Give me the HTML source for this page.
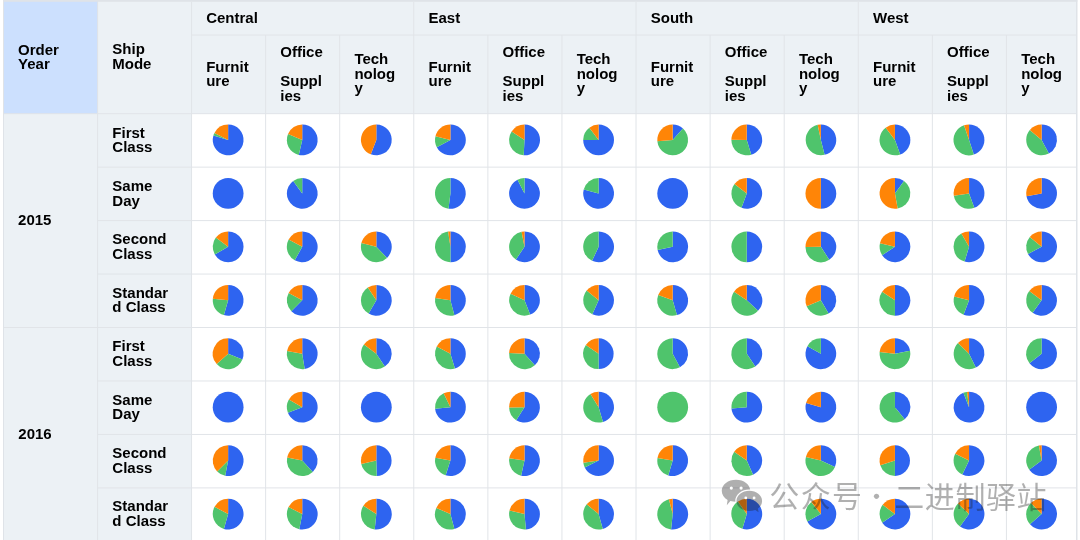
<!DOCTYPE html>
<html><head><meta charset="utf-8"><style>
html,body{margin:0;padding:0;}
body{width:1080px;height:540px;overflow:hidden;position:relative;background:#fff;font-family:"Liberation Sans",Arial,sans-serif;}
.a{position:absolute;}
.v{position:absolute;width:1px;background:#E1E4E8;}
.h{position:absolute;height:1px;background:#E1E4E8;}
.t{position:absolute;font-weight:bold;font-size:15px;line-height:14.8px;color:#000;white-space:nowrap;}
.wm{position:absolute;font-family:"Liberation Sans","Noto Sans CJK SC",sans-serif;color:rgba(30,30,30,0.35);font-size:30px;font-weight:400;line-height:30px;white-space:nowrap;}
</style></head><body>
<div class="a" style="left:4px;top:1px;width:1073px;height:112.5px;background:#ECF1F5"></div>
<div class="a" style="left:4px;top:1px;width:93.6px;height:112.5px;background:#CCE0FE"></div>
<div class="a" style="left:4px;top:113.5px;width:187.5px;height:427px;background:#ECF1F5"></div>
<svg class="a" style="left:0;top:0" width="1080" height="540" viewBox="0 0 1080 540"><g stroke="#E1E4E8" stroke-width="1" fill="none"><line x1="191.55" y1="35.07" x2="1076.4" y2="35.07"/><line x1="4" y1="113.68" x2="1076.4" y2="113.68"/><line x1="97.6" y1="167.14" x2="1076.4" y2="167.14"/><line x1="97.6" y1="220.60" x2="1076.4" y2="220.60"/><line x1="97.6" y1="274.06" x2="1076.4" y2="274.06"/><line x1="4" y1="327.52" x2="1076.4" y2="327.52"/><line x1="97.6" y1="380.98" x2="1076.4" y2="380.98"/><line x1="97.6" y1="434.44" x2="1076.4" y2="434.44"/><line x1="97.6" y1="487.90" x2="1076.4" y2="487.90"/><line x1="97.60" y1="2" x2="97.60" y2="540"/><line x1="191.55" y1="2" x2="191.55" y2="540"/><line x1="265.63" y1="35.07" x2="265.63" y2="540"/><line x1="339.71" y1="35.07" x2="339.71" y2="540"/><line x1="413.79" y1="2" x2="413.79" y2="540"/><line x1="487.87" y1="35.07" x2="487.87" y2="540"/><line x1="561.95" y1="35.07" x2="561.95" y2="540"/><line x1="636.03" y1="2" x2="636.03" y2="540"/><line x1="710.11" y1="35.07" x2="710.11" y2="540"/><line x1="784.19" y1="35.07" x2="784.19" y2="540"/><line x1="858.27" y1="2" x2="858.27" y2="540"/><line x1="932.35" y1="35.07" x2="932.35" y2="540"/><line x1="1006.43" y1="35.07" x2="1006.43" y2="540"/></g></svg>
<svg class="a" style="left:0;top:0" width="1080" height="540" viewBox="0 0 1080 540"><path d="M228.14 139.93L228.14 124.53A15.4 15.4 0 1 1 213.42 135.42Z" fill="#2E64F0"/><path d="M228.14 139.93L213.42 135.42A15.4 15.4 0 0 1 214.42 132.93Z" fill="#4FC46C"/><path d="M228.14 139.93L214.42 132.93A15.4 15.4 0 0 1 228.14 124.53Z" fill="#FF8507"/><path d="M302.24 139.93L302.24 124.53A15.4 15.4 0 1 1 298.77 154.93Z" fill="#2E64F0"/><path d="M302.24 139.93L298.77 154.93A15.4 15.4 0 0 1 288.06 133.91Z" fill="#4FC46C"/><path d="M302.24 139.93L288.06 133.91A15.4 15.4 0 0 1 302.24 124.53Z" fill="#FF8507"/><path d="M376.33 139.93L376.33 124.53A15.4 15.4 0 1 1 370.81 154.30Z" fill="#2E64F0"/><path d="M376.33 139.93L370.81 154.30A15.4 15.4 0 0 1 376.33 124.53Z" fill="#FF8507"/><path d="M450.41 139.93L450.41 124.53A15.4 15.4 0 1 1 436.82 147.15Z" fill="#2E64F0"/><path d="M450.41 139.93L436.82 147.15A15.4 15.4 0 0 1 435.47 136.20Z" fill="#4FC46C"/><path d="M450.41 139.93L435.47 136.20A15.4 15.4 0 0 1 450.41 124.53Z" fill="#FF8507"/><path d="M524.50 139.93L524.50 124.53A15.4 15.4 0 1 1 523.70 155.30Z" fill="#2E64F0"/><path d="M524.50 139.93L523.70 155.30A15.4 15.4 0 0 1 511.59 131.54Z" fill="#4FC46C"/><path d="M524.50 139.93L511.59 131.54A15.4 15.4 0 0 1 524.50 124.53Z" fill="#FF8507"/><path d="M598.60 139.93L598.60 124.53A15.4 15.4 0 1 1 583.20 139.93Z" fill="#2E64F0"/><path d="M598.60 139.93L583.20 139.93A15.4 15.4 0 0 1 589.33 127.63Z" fill="#4FC46C"/><path d="M598.60 139.93L589.33 127.63A15.4 15.4 0 0 1 598.60 124.53Z" fill="#FF8507"/><path d="M672.69 139.93L672.69 124.53A15.4 15.4 0 0 1 682.99 128.48Z" fill="#2E64F0"/><path d="M672.69 139.93L682.99 128.48A15.4 15.4 0 1 1 657.34 141.27Z" fill="#4FC46C"/><path d="M672.69 139.93L657.34 141.27A15.4 15.4 0 0 1 672.69 124.53Z" fill="#FF8507"/><path d="M746.78 139.93L746.78 124.53A15.4 15.4 0 0 1 751.28 154.65Z" fill="#2E64F0"/><path d="M746.78 139.93L751.28 154.65A15.4 15.4 0 0 1 731.38 139.66Z" fill="#4FC46C"/><path d="M746.78 139.93L731.38 139.66A15.4 15.4 0 0 1 746.78 124.53Z" fill="#FF8507"/><path d="M820.87 139.93L820.87 124.53A15.4 15.4 0 0 1 824.59 154.87Z" fill="#2E64F0"/><path d="M820.87 139.93L824.59 154.87A15.4 15.4 0 1 1 817.66 124.86Z" fill="#4FC46C"/><path d="M820.87 139.93L817.66 124.86A15.4 15.4 0 0 1 820.87 124.53Z" fill="#FF8507"/><path d="M894.96 139.93L894.96 124.53A15.4 15.4 0 0 1 900.22 154.40Z" fill="#2E64F0"/><path d="M894.96 139.93L900.22 154.40A15.4 15.4 0 0 1 885.69 127.63Z" fill="#4FC46C"/><path d="M894.96 139.93L885.69 127.63A15.4 15.4 0 0 1 894.96 124.53Z" fill="#FF8507"/><path d="M969.05 139.93L969.05 124.53A15.4 15.4 0 0 1 973.80 154.57Z" fill="#2E64F0"/><path d="M969.05 139.93L973.80 154.57A15.4 15.4 0 0 1 964.03 125.36Z" fill="#4FC46C"/><path d="M969.05 139.93L964.03 125.36A15.4 15.4 0 0 1 969.05 124.53Z" fill="#FF8507"/><path d="M1041.60 139.93L1041.60 124.53A15.4 15.4 0 0 1 1048.83 153.52Z" fill="#2E64F0"/><path d="M1041.60 139.93L1048.83 153.52A15.4 15.4 0 0 1 1029.80 130.03Z" fill="#4FC46C"/><path d="M1041.60 139.93L1029.80 130.03A15.4 15.4 0 0 1 1041.60 124.53Z" fill="#FF8507"/><circle cx="228.14" cy="193.38" r="15.4" fill="#2E64F0"/><path d="M302.24 193.38L302.24 177.97A15.4 15.4 0 1 1 293.18 180.92Z" fill="#2E64F0"/><path d="M302.24 193.38L293.18 180.92A15.4 15.4 0 0 1 302.24 177.97Z" fill="#4FC46C"/><path d="M450.41 193.38L450.41 177.97A15.4 15.4 0 1 1 448.54 208.66Z" fill="#2E64F0"/><path d="M450.41 193.38L448.54 208.66A15.4 15.4 0 0 1 450.41 177.97Z" fill="#4FC46C"/><path d="M524.50 193.38L524.50 177.97A15.4 15.4 0 1 1 517.51 179.65Z" fill="#2E64F0"/><path d="M524.50 193.38L517.51 179.65A15.4 15.4 0 0 1 524.50 177.97Z" fill="#4FC46C"/><path d="M598.60 193.38L598.60 177.97A15.4 15.4 0 1 1 583.72 189.39Z" fill="#2E64F0"/><path d="M598.60 193.38L583.72 189.39A15.4 15.4 0 0 1 598.60 177.97Z" fill="#4FC46C"/><circle cx="672.69" cy="193.38" r="15.4" fill="#2E64F0"/><path d="M746.78 193.38L746.78 177.97A15.4 15.4 0 1 1 741.51 207.85Z" fill="#2E64F0"/><path d="M746.78 193.38L741.51 207.85A15.4 15.4 0 0 1 734.48 184.11Z" fill="#4FC46C"/><path d="M746.78 193.38L734.48 184.11A15.4 15.4 0 0 1 746.78 177.97Z" fill="#FF8507"/><path d="M820.87 193.38L820.87 177.97A15.4 15.4 0 0 1 820.87 208.78Z" fill="#2E64F0"/><path d="M820.87 193.38L820.87 208.78A15.4 15.4 0 0 1 820.87 177.97Z" fill="#FF8507"/><path d="M894.96 193.38L894.96 177.97A15.4 15.4 0 0 1 904.01 180.92Z" fill="#2E64F0"/><path d="M894.96 193.38L904.01 180.92A15.4 15.4 0 0 1 897.63 208.54Z" fill="#4FC46C"/><path d="M894.96 193.38L897.63 208.54A15.4 15.4 0 1 1 894.96 177.97Z" fill="#FF8507"/><path d="M969.05 193.38L969.05 177.97A15.4 15.4 0 0 1 974.31 207.85Z" fill="#2E64F0"/><path d="M969.05 193.38L974.31 207.85A15.4 15.4 0 0 1 953.83 195.78Z" fill="#4FC46C"/><path d="M969.05 193.38L953.83 195.78A15.4 15.4 0 0 1 969.05 177.97Z" fill="#FF8507"/><path d="M1041.60 193.38L1041.60 177.97A15.4 15.4 0 1 1 1026.48 196.31Z" fill="#2E64F0"/><path d="M1041.60 193.38L1026.48 196.31A15.4 15.4 0 0 1 1041.60 177.97Z" fill="#FF8507"/><path d="M228.14 246.82L228.14 231.42A15.4 15.4 0 1 1 214.81 254.53Z" fill="#2E64F0"/><path d="M228.14 246.82L214.81 254.53A15.4 15.4 0 0 1 215.85 237.56Z" fill="#4FC46C"/><path d="M228.14 246.82L215.85 237.56A15.4 15.4 0 0 1 228.14 231.42Z" fill="#FF8507"/><path d="M302.24 246.82L302.24 231.42A15.4 15.4 0 1 1 294.77 260.29Z" fill="#2E64F0"/><path d="M302.24 246.82L294.77 260.29A15.4 15.4 0 0 1 288.64 239.60Z" fill="#4FC46C"/><path d="M302.24 246.82L288.64 239.60A15.4 15.4 0 0 1 302.24 231.42Z" fill="#FF8507"/><path d="M376.33 246.82L376.33 231.42A15.4 15.4 0 0 1 387.02 257.90Z" fill="#2E64F0"/><path d="M376.33 246.82L387.02 257.90A15.4 15.4 0 0 1 361.38 243.10Z" fill="#4FC46C"/><path d="M376.33 246.82L361.38 243.10A15.4 15.4 0 0 1 376.33 231.42Z" fill="#FF8507"/><path d="M450.41 246.82L450.41 231.42A15.4 15.4 0 0 1 450.41 262.22Z" fill="#2E64F0"/><path d="M450.41 246.82L450.41 262.22A15.4 15.4 0 0 1 448.14 231.59Z" fill="#4FC46C"/><path d="M450.41 246.82L448.14 231.59A15.4 15.4 0 0 1 450.41 231.42Z" fill="#FF8507"/><path d="M524.50 246.82L524.50 231.42A15.4 15.4 0 1 1 515.89 259.59Z" fill="#2E64F0"/><path d="M524.50 246.82L515.89 259.59A15.4 15.4 0 0 1 521.57 231.71Z" fill="#4FC46C"/><path d="M524.50 246.82L521.57 231.71A15.4 15.4 0 0 1 524.50 231.42Z" fill="#FF8507"/><path d="M598.60 246.82L598.60 231.42A15.4 15.4 0 1 1 592.09 260.78Z" fill="#2E64F0"/><path d="M598.60 246.82L592.09 260.78A15.4 15.4 0 0 1 598.60 231.42Z" fill="#4FC46C"/><path d="M672.69 246.82L672.69 231.42A15.4 15.4 0 1 1 657.62 250.03Z" fill="#2E64F0"/><path d="M672.69 246.82L657.62 250.03A15.4 15.4 0 0 1 672.69 231.42Z" fill="#4FC46C"/><path d="M746.78 246.82L746.78 231.42A15.4 15.4 0 0 1 746.78 262.22Z" fill="#2E64F0"/><path d="M746.78 246.82L746.78 262.22A15.4 15.4 0 0 1 746.78 231.42Z" fill="#4FC46C"/><path d="M820.87 246.82L820.87 231.42A15.4 15.4 0 0 1 829.25 259.74Z" fill="#2E64F0"/><path d="M820.87 246.82L829.25 259.74A15.4 15.4 0 0 1 805.47 247.09Z" fill="#4FC46C"/><path d="M820.87 246.82L805.47 247.09A15.4 15.4 0 0 1 820.87 231.42Z" fill="#FF8507"/><path d="M894.96 246.82L894.96 231.42A15.4 15.4 0 1 1 882.11 255.32Z" fill="#2E64F0"/><path d="M894.96 246.82L882.11 255.32A15.4 15.4 0 0 1 879.95 243.36Z" fill="#4FC46C"/><path d="M894.96 246.82L879.95 243.36A15.4 15.4 0 0 1 894.96 231.42Z" fill="#FF8507"/><path d="M969.05 246.82L969.05 231.42A15.4 15.4 0 1 1 964.54 261.55Z" fill="#2E64F0"/><path d="M969.05 246.82L964.54 261.55A15.4 15.4 0 0 1 961.35 233.49Z" fill="#4FC46C"/><path d="M969.05 246.82L961.35 233.49A15.4 15.4 0 0 1 969.05 231.42Z" fill="#FF8507"/><path d="M1041.60 246.82L1041.60 231.42A15.4 15.4 0 1 1 1028.00 254.05Z" fill="#2E64F0"/><path d="M1041.60 246.82L1028.00 254.05A15.4 15.4 0 0 1 1029.80 236.93Z" fill="#4FC46C"/><path d="M1041.60 246.82L1029.80 236.93A15.4 15.4 0 0 1 1041.60 231.42Z" fill="#FF8507"/><path d="M228.14 300.28L228.14 284.88A15.4 15.4 0 1 1 223.90 315.08Z" fill="#2E64F0"/><path d="M228.14 300.28L223.90 315.08A15.4 15.4 0 0 1 212.83 298.67Z" fill="#4FC46C"/><path d="M228.14 300.28L212.83 298.67A15.4 15.4 0 0 1 228.14 284.88Z" fill="#FF8507"/><path d="M302.24 300.28L302.24 284.88A15.4 15.4 0 1 1 291.35 311.16Z" fill="#2E64F0"/><path d="M302.24 300.28L291.35 311.16A15.4 15.4 0 0 1 288.64 293.05Z" fill="#4FC46C"/><path d="M302.24 300.28L288.64 293.05A15.4 15.4 0 0 1 302.24 284.88Z" fill="#FF8507"/><path d="M376.33 300.28L376.33 284.88A15.4 15.4 0 1 1 368.63 313.61Z" fill="#2E64F0"/><path d="M376.33 300.28L368.63 313.61A15.4 15.4 0 0 1 367.83 287.43Z" fill="#4FC46C"/><path d="M376.33 300.28L367.83 287.43A15.4 15.4 0 0 1 376.33 284.88Z" fill="#FF8507"/><path d="M450.41 300.28L450.41 284.88A15.4 15.4 0 0 1 454.40 315.15Z" fill="#2E64F0"/><path d="M450.41 300.28L454.40 315.15A15.4 15.4 0 0 1 435.18 298.00Z" fill="#4FC46C"/><path d="M450.41 300.28L435.18 298.00A15.4 15.4 0 0 1 450.41 284.88Z" fill="#FF8507"/><path d="M524.50 300.28L524.50 284.88A15.4 15.4 0 0 1 530.12 314.61Z" fill="#2E64F0"/><path d="M524.50 300.28L530.12 314.61A15.4 15.4 0 0 1 510.61 293.65Z" fill="#4FC46C"/><path d="M524.50 300.28L510.61 293.65A15.4 15.4 0 0 1 524.50 284.88Z" fill="#FF8507"/><path d="M598.60 300.28L598.60 284.88A15.4 15.4 0 1 1 592.33 314.34Z" fill="#2E64F0"/><path d="M598.60 300.28L592.33 314.34A15.4 15.4 0 0 1 586.63 290.58Z" fill="#4FC46C"/><path d="M598.60 300.28L586.63 290.58A15.4 15.4 0 0 1 598.60 284.88Z" fill="#FF8507"/><path d="M672.69 300.28L672.69 284.88A15.4 15.4 0 0 1 676.93 315.08Z" fill="#2E64F0"/><path d="M672.69 300.28L676.93 315.08A15.4 15.4 0 0 1 658.21 295.01Z" fill="#4FC46C"/><path d="M672.69 300.28L658.21 295.01A15.4 15.4 0 0 1 672.69 284.88Z" fill="#FF8507"/><path d="M746.78 300.28L746.78 284.88A15.4 15.4 0 0 1 758.04 310.78Z" fill="#2E64F0"/><path d="M746.78 300.28L758.04 310.78A15.4 15.4 0 0 1 734.01 291.66Z" fill="#4FC46C"/><path d="M746.78 300.28L734.01 291.66A15.4 15.4 0 0 1 746.78 284.88Z" fill="#FF8507"/><path d="M820.87 300.28L820.87 284.88A15.4 15.4 0 0 1 828.57 313.61Z" fill="#2E64F0"/><path d="M820.87 300.28L828.57 313.61A15.4 15.4 0 0 1 806.69 306.29Z" fill="#4FC46C"/><path d="M820.87 300.28L806.69 306.29A15.4 15.4 0 0 1 820.87 284.88Z" fill="#FF8507"/><path d="M894.96 300.28L894.96 284.88A15.4 15.4 0 0 1 894.96 315.68Z" fill="#2E64F0"/><path d="M894.96 300.28L894.96 315.68A15.4 15.4 0 0 1 882.11 291.78Z" fill="#4FC46C"/><path d="M894.96 300.28L882.11 291.78A15.4 15.4 0 0 1 894.96 284.88Z" fill="#FF8507"/><path d="M969.05 300.28L969.05 284.88A15.4 15.4 0 1 1 963.53 314.65Z" fill="#2E64F0"/><path d="M969.05 300.28L963.53 314.65A15.4 15.4 0 0 1 954.13 296.45Z" fill="#4FC46C"/><path d="M969.05 300.28L954.13 296.45A15.4 15.4 0 0 1 969.05 284.88Z" fill="#FF8507"/><path d="M1041.60 300.28L1041.60 284.88A15.4 15.4 0 1 1 1032.64 312.80Z" fill="#2E64F0"/><path d="M1041.60 300.28L1032.64 312.80A15.4 15.4 0 0 1 1029.25 291.07Z" fill="#4FC46C"/><path d="M1041.60 300.28L1029.25 291.07A15.4 15.4 0 0 1 1041.60 284.88Z" fill="#FF8507"/><path d="M228.14 353.73L228.14 338.33A15.4 15.4 0 0 1 242.42 359.49Z" fill="#2E64F0"/><path d="M228.14 353.73L242.42 359.49A15.4 15.4 0 0 1 216.70 364.03Z" fill="#4FC46C"/><path d="M228.14 353.73L216.70 364.03A15.4 15.4 0 0 1 228.14 338.33Z" fill="#FF8507"/><path d="M302.24 353.73L302.24 338.33A15.4 15.4 0 0 1 304.64 368.94Z" fill="#2E64F0"/><path d="M302.24 353.73L304.64 368.94A15.4 15.4 0 0 1 287.07 351.05Z" fill="#4FC46C"/><path d="M302.24 353.73L287.07 351.05A15.4 15.4 0 0 1 302.24 338.33Z" fill="#FF8507"/><path d="M376.33 353.73L376.33 338.33A15.4 15.4 0 0 1 384.82 366.57Z" fill="#2E64F0"/><path d="M376.33 353.73L384.82 366.57A15.4 15.4 0 0 1 363.96 344.54Z" fill="#4FC46C"/><path d="M376.33 353.73L363.96 344.54A15.4 15.4 0 0 1 376.33 338.33Z" fill="#FF8507"/><path d="M450.41 353.73L450.41 338.33A15.4 15.4 0 0 1 454.92 368.45Z" fill="#2E64F0"/><path d="M450.41 353.73L454.92 368.45A15.4 15.4 0 0 1 436.77 346.59Z" fill="#4FC46C"/><path d="M450.41 353.73L436.77 346.59A15.4 15.4 0 0 1 450.41 338.33Z" fill="#FF8507"/><path d="M524.50 353.73L524.50 338.33A15.4 15.4 0 0 1 534.81 365.17Z" fill="#2E64F0"/><path d="M524.50 353.73L534.81 365.17A15.4 15.4 0 0 1 509.13 352.92Z" fill="#4FC46C"/><path d="M524.50 353.73L509.13 352.92A15.4 15.4 0 0 1 524.50 338.33Z" fill="#FF8507"/><path d="M598.60 353.73L598.60 338.33A15.4 15.4 0 0 1 598.60 369.12Z" fill="#2E64F0"/><path d="M598.60 353.73L598.60 369.12A15.4 15.4 0 0 1 585.83 345.11Z" fill="#4FC46C"/><path d="M598.60 353.73L585.83 345.11A15.4 15.4 0 0 1 598.60 338.33Z" fill="#FF8507"/><path d="M672.69 353.73L672.69 338.33A15.4 15.4 0 0 1 679.91 367.32Z" fill="#2E64F0"/><path d="M672.69 353.73L679.91 367.32A15.4 15.4 0 1 1 672.69 338.33Z" fill="#4FC46C"/><path d="M746.78 353.73L746.78 338.33A15.4 15.4 0 0 1 755.27 366.57Z" fill="#2E64F0"/><path d="M746.78 353.73L755.27 366.57A15.4 15.4 0 1 1 746.78 338.33Z" fill="#4FC46C"/><path d="M820.87 353.73L820.87 338.33A15.4 15.4 0 1 1 807.40 346.26Z" fill="#2E64F0"/><path d="M820.87 353.73L807.40 346.26A15.4 15.4 0 0 1 820.87 338.33Z" fill="#4FC46C"/><path d="M894.96 353.73L894.96 338.33A15.4 15.4 0 0 1 910.07 350.79Z" fill="#2E64F0"/><path d="M894.96 353.73L910.07 350.79A15.4 15.4 0 1 1 879.64 352.12Z" fill="#4FC46C"/><path d="M894.96 353.73L879.64 352.12A15.4 15.4 0 0 1 894.96 338.33Z" fill="#FF8507"/><path d="M969.05 353.73L969.05 338.33A15.4 15.4 0 0 1 975.80 367.57Z" fill="#2E64F0"/><path d="M969.05 353.73L975.80 367.57A15.4 15.4 0 0 1 957.97 343.03Z" fill="#4FC46C"/><path d="M969.05 353.73L957.97 343.03A15.4 15.4 0 0 1 969.05 338.33Z" fill="#FF8507"/><path d="M1041.60 353.73L1041.60 338.33A15.4 15.4 0 1 1 1029.46 363.21Z" fill="#2E64F0"/><path d="M1041.60 353.73L1029.46 363.21A15.4 15.4 0 0 1 1041.60 338.33Z" fill="#4FC46C"/><circle cx="228.14" cy="407.18" r="15.4" fill="#2E64F0"/><path d="M302.24 407.18L302.24 391.78A15.4 15.4 0 1 1 287.90 412.79Z" fill="#2E64F0"/><path d="M302.24 407.18L287.90 412.79A15.4 15.4 0 0 1 288.86 399.54Z" fill="#4FC46C"/><path d="M302.24 407.18L288.86 399.54A15.4 15.4 0 0 1 302.24 391.78Z" fill="#FF8507"/><circle cx="376.33" cy="407.18" r="15.4" fill="#2E64F0"/><path d="M450.41 407.18L450.41 391.78A15.4 15.4 0 1 1 435.10 408.78Z" fill="#2E64F0"/><path d="M450.41 407.18L435.10 408.78A15.4 15.4 0 0 1 443.66 393.33Z" fill="#4FC46C"/><path d="M450.41 407.18L443.66 393.33A15.4 15.4 0 0 1 450.41 391.78Z" fill="#FF8507"/><path d="M524.50 407.18L524.50 391.78A15.4 15.4 0 1 1 516.21 420.15Z" fill="#2E64F0"/><path d="M524.50 407.18L516.21 420.15A15.4 15.4 0 0 1 509.11 407.58Z" fill="#4FC46C"/><path d="M524.50 407.18L509.11 407.58A15.4 15.4 0 0 1 524.50 391.78Z" fill="#FF8507"/><path d="M598.60 407.18L598.60 391.78A15.4 15.4 0 0 1 602.97 421.94Z" fill="#2E64F0"/><path d="M598.60 407.18L602.97 421.94A15.4 15.4 0 0 1 590.43 394.12Z" fill="#4FC46C"/><path d="M598.60 407.18L590.43 394.12A15.4 15.4 0 0 1 598.60 391.78Z" fill="#FF8507"/><circle cx="672.69" cy="407.18" r="15.4" fill="#4FC46C"/><path d="M746.78 407.18L746.78 391.78A15.4 15.4 0 1 1 731.44 408.62Z" fill="#2E64F0"/><path d="M746.78 407.18L731.44 408.62A15.4 15.4 0 0 1 746.78 391.78Z" fill="#4FC46C"/><path d="M820.87 407.18L820.87 391.78A15.4 15.4 0 1 1 806.06 402.93Z" fill="#2E64F0"/><path d="M820.87 407.18L806.06 402.93A15.4 15.4 0 0 1 820.87 391.78Z" fill="#FF8507"/><path d="M894.96 407.18L894.96 391.78A15.4 15.4 0 0 1 904.65 419.14Z" fill="#2E64F0"/><path d="M894.96 407.18L904.65 419.14A15.4 15.4 0 1 1 894.96 391.78Z" fill="#4FC46C"/><path d="M969.05 407.18L969.05 391.78A15.4 15.4 0 1 1 963.40 392.85Z" fill="#2E64F0"/><path d="M969.05 407.18L963.40 392.85A15.4 15.4 0 0 1 967.01 391.91Z" fill="#4FC46C"/><path d="M969.05 407.18L967.01 391.91A15.4 15.4 0 0 1 969.05 391.78Z" fill="#FF8507"/><circle cx="1041.60" cy="407.18" r="15.4" fill="#2E64F0"/><path d="M228.14 460.62L228.14 445.23A15.4 15.4 0 1 1 225.21 475.74Z" fill="#2E64F0"/><path d="M228.14 460.62L225.21 475.74A15.4 15.4 0 0 1 217.16 471.42Z" fill="#4FC46C"/><path d="M228.14 460.62L217.16 471.42A15.4 15.4 0 0 1 228.14 445.23Z" fill="#FF8507"/><path d="M302.24 460.62L302.24 445.23A15.4 15.4 0 0 1 312.74 471.89Z" fill="#2E64F0"/><path d="M302.24 460.62L312.74 471.89A15.4 15.4 0 0 1 287.15 457.53Z" fill="#4FC46C"/><path d="M302.24 460.62L287.15 457.53A15.4 15.4 0 0 1 302.24 445.23Z" fill="#FF8507"/><path d="M376.33 460.62L376.33 445.23A15.4 15.4 0 0 1 376.73 476.02Z" fill="#2E64F0"/><path d="M376.33 460.62L376.73 476.02A15.4 15.4 0 0 1 361.32 464.09Z" fill="#4FC46C"/><path d="M376.33 460.62L361.32 464.09A15.4 15.4 0 0 1 376.33 445.23Z" fill="#FF8507"/><path d="M450.41 460.62L450.41 445.23A15.4 15.4 0 1 1 445.66 475.27Z" fill="#2E64F0"/><path d="M450.41 460.62L445.66 475.27A15.4 15.4 0 0 1 435.30 457.69Z" fill="#4FC46C"/><path d="M450.41 460.62L435.30 457.69A15.4 15.4 0 0 1 450.41 445.23Z" fill="#FF8507"/><path d="M524.50 460.62L524.50 445.23A15.4 15.4 0 1 1 521.12 475.65Z" fill="#2E64F0"/><path d="M524.50 460.62L521.12 475.65A15.4 15.4 0 0 1 509.28 458.32Z" fill="#4FC46C"/><path d="M524.50 460.62L509.28 458.32A15.4 15.4 0 0 1 524.50 445.23Z" fill="#FF8507"/><path d="M598.60 460.62L598.60 445.23A15.4 15.4 0 1 1 584.75 467.38Z" fill="#2E64F0"/><path d="M598.60 460.62L584.75 467.38A15.4 15.4 0 0 1 583.34 462.77Z" fill="#4FC46C"/><path d="M598.60 460.62L583.34 462.77A15.4 15.4 0 0 1 598.60 445.23Z" fill="#FF8507"/><path d="M672.69 460.62L672.69 445.23A15.4 15.4 0 1 1 668.26 475.38Z" fill="#2E64F0"/><path d="M672.69 460.62L668.26 475.38A15.4 15.4 0 0 1 657.52 457.95Z" fill="#4FC46C"/><path d="M672.69 460.62L657.52 457.95A15.4 15.4 0 0 1 672.69 445.23Z" fill="#FF8507"/><path d="M746.78 460.62L746.78 445.23A15.4 15.4 0 0 1 753.04 474.69Z" fill="#2E64F0"/><path d="M746.78 460.62L753.04 474.69A15.4 15.4 0 0 1 734.16 451.79Z" fill="#4FC46C"/><path d="M746.78 460.62L734.16 451.79A15.4 15.4 0 0 1 746.78 445.23Z" fill="#FF8507"/><path d="M820.87 460.62L820.87 445.23A15.4 15.4 0 0 1 834.93 466.89Z" fill="#2E64F0"/><path d="M820.87 460.62L834.93 466.89A15.4 15.4 0 0 1 805.92 456.90Z" fill="#4FC46C"/><path d="M820.87 460.62L805.92 456.90A15.4 15.4 0 0 1 820.87 445.23Z" fill="#FF8507"/><path d="M894.96 460.62L894.96 445.23A15.4 15.4 0 0 1 894.96 476.02Z" fill="#2E64F0"/><path d="M894.96 460.62L894.96 476.02A15.4 15.4 0 0 1 880.28 465.31Z" fill="#4FC46C"/><path d="M894.96 460.62L880.28 465.31A15.4 15.4 0 0 1 894.96 445.23Z" fill="#FF8507"/><path d="M969.05 460.62L969.05 445.23A15.4 15.4 0 1 1 962.29 474.47Z" fill="#2E64F0"/><path d="M969.05 460.62L962.29 474.47A15.4 15.4 0 0 1 955.20 453.87Z" fill="#4FC46C"/><path d="M969.05 460.62L955.20 453.87A15.4 15.4 0 0 1 969.05 445.23Z" fill="#FF8507"/><path d="M1041.60 460.62L1041.60 445.23A15.4 15.4 0 1 1 1029.20 469.76Z" fill="#2E64F0"/><path d="M1041.60 460.62L1029.20 469.76A15.4 15.4 0 0 1 1038.93 445.46Z" fill="#4FC46C"/><path d="M1041.60 460.62L1038.93 445.46A15.4 15.4 0 0 1 1041.60 445.23Z" fill="#FF8507"/><path d="M228.14 514.08L228.14 498.68A15.4 15.4 0 1 1 223.90 528.88Z" fill="#2E64F0"/><path d="M228.14 514.08L223.90 528.88A15.4 15.4 0 0 1 214.55 506.85Z" fill="#4FC46C"/><path d="M228.14 514.08L214.55 506.85A15.4 15.4 0 0 1 228.14 498.68Z" fill="#FF8507"/><path d="M302.24 514.08L302.24 498.68A15.4 15.4 0 1 1 299.30 529.19Z" fill="#2E64F0"/><path d="M302.24 514.08L299.30 529.19A15.4 15.4 0 0 1 288.51 507.08Z" fill="#4FC46C"/><path d="M302.24 514.08L288.51 507.08A15.4 15.4 0 0 1 302.24 498.68Z" fill="#FF8507"/><path d="M376.33 514.08L376.33 498.68A15.4 15.4 0 1 1 374.72 529.39Z" fill="#2E64F0"/><path d="M376.33 514.08L374.72 529.39A15.4 15.4 0 0 1 363.41 505.69Z" fill="#4FC46C"/><path d="M376.33 514.08L363.41 505.69A15.4 15.4 0 0 1 376.33 498.68Z" fill="#FF8507"/><path d="M450.41 514.08L450.41 498.68A15.4 15.4 0 0 1 454.40 528.95Z" fill="#2E64F0"/><path d="M450.41 514.08L454.40 528.95A15.4 15.4 0 0 1 436.29 507.93Z" fill="#4FC46C"/><path d="M450.41 514.08L436.29 507.93A15.4 15.4 0 0 1 450.41 498.68Z" fill="#FF8507"/><path d="M524.50 514.08L524.50 498.68A15.4 15.4 0 0 1 525.95 529.41Z" fill="#2E64F0"/><path d="M524.50 514.08L525.95 529.41A15.4 15.4 0 0 1 509.53 510.48Z" fill="#4FC46C"/><path d="M524.50 514.08L509.53 510.48A15.4 15.4 0 0 1 524.50 498.68Z" fill="#FF8507"/><path d="M598.60 514.08L598.60 498.68A15.4 15.4 0 0 1 602.76 528.90Z" fill="#2E64F0"/><path d="M598.60 514.08L602.76 528.90A15.4 15.4 0 0 1 586.68 504.32Z" fill="#4FC46C"/><path d="M598.60 514.08L586.68 504.32A15.4 15.4 0 0 1 598.60 498.68Z" fill="#FF8507"/><path d="M672.69 514.08L672.69 498.68A15.4 15.4 0 1 1 671.08 529.39Z" fill="#2E64F0"/><path d="M672.69 514.08L671.08 529.39A15.4 15.4 0 0 1 668.96 499.13Z" fill="#4FC46C"/><path d="M672.69 514.08L668.96 499.13A15.4 15.4 0 0 1 672.69 498.68Z" fill="#FF8507"/><path d="M746.78 514.08L746.78 498.68A15.4 15.4 0 1 1 742.40 528.84Z" fill="#2E64F0"/><path d="M746.78 514.08L742.40 528.84A15.4 15.4 0 0 1 737.94 501.46Z" fill="#4FC46C"/><path d="M746.78 514.08L737.94 501.46A15.4 15.4 0 0 1 746.78 498.68Z" fill="#FF8507"/><path d="M820.87 514.08L820.87 498.68A15.4 15.4 0 1 1 807.31 521.38Z" fill="#2E64F0"/><path d="M820.87 514.08L807.31 521.38A15.4 15.4 0 0 1 811.32 501.99Z" fill="#4FC46C"/><path d="M820.87 514.08L811.32 501.99A15.4 15.4 0 0 1 820.87 498.68Z" fill="#FF8507"/><path d="M894.96 514.08L894.96 498.68A15.4 15.4 0 1 1 882.19 522.69Z" fill="#2E64F0"/><path d="M894.96 514.08L882.19 522.69A15.4 15.4 0 0 1 882.66 504.81Z" fill="#4FC46C"/><path d="M894.96 514.08L882.66 504.81A15.4 15.4 0 0 1 894.96 498.68Z" fill="#FF8507"/><path d="M969.05 514.08L969.05 498.68A15.4 15.4 0 1 1 959.99 526.53Z" fill="#2E64F0"/><path d="M969.05 514.08L959.99 526.53A15.4 15.4 0 0 1 957.97 503.38Z" fill="#4FC46C"/><path d="M969.05 514.08L957.97 503.38A15.4 15.4 0 0 1 969.05 498.68Z" fill="#FF8507"/><path d="M1041.60 514.08L1041.60 498.68A15.4 15.4 0 1 1 1029.98 524.18Z" fill="#2E64F0"/><path d="M1041.60 514.08L1029.98 524.18A15.4 15.4 0 0 1 1030.90 503.00Z" fill="#4FC46C"/><path d="M1041.60 514.08L1030.90 503.00A15.4 15.4 0 0 1 1041.60 498.68Z" fill="#FF8507"/></svg>
<div class="t" style="left:18.1px;top:42.699999999999996px">Order<br>Year</div><div class="t" style="left:112.3px;top:42.3px">Ship<br>Mode</div><div class="t" style="left:206.2px;top:10.700000000000001px">Central</div><div class="t" style="left:206.2px;top:59.49999999999999px">Furnit<br>ure</div><div class="t" style="left:280.29px;top:44.6px">Office<br><br>Suppl<br>ies</div><div class="t" style="left:354.38px;top:51.8px">Tech<br>nolog<br>y</div><div class="t" style="left:428.46999999999997px;top:10.700000000000001px">East</div><div class="t" style="left:428.46999999999997px;top:59.49999999999999px">Furnit<br>ure</div><div class="t" style="left:502.56px;top:44.6px">Office<br><br>Suppl<br>ies</div><div class="t" style="left:576.6500000000001px;top:51.8px">Tech<br>nolog<br>y</div><div class="t" style="left:650.74px;top:10.700000000000001px">South</div><div class="t" style="left:650.74px;top:59.49999999999999px">Furnit<br>ure</div><div class="t" style="left:724.83px;top:44.6px">Office<br><br>Suppl<br>ies</div><div class="t" style="left:798.9200000000001px;top:51.8px">Tech<br>nolog<br>y</div><div class="t" style="left:873.0100000000001px;top:10.700000000000001px">West</div><div class="t" style="left:873.0100000000001px;top:59.49999999999999px">Furnit<br>ure</div><div class="t" style="left:947.1000000000001px;top:44.6px">Office<br><br>Suppl<br>ies</div><div class="t" style="left:1021.19px;top:51.8px">Tech<br>nolog<br>y</div><div class="t" style="left:18.1px;top:212.9px">2015</div><div class="t" style="left:18.3px;top:426.5px">2016</div><div class="t" style="left:112.3px;top:125.5px">First<br>Class</div><div class="t" style="left:112.3px;top:178.9px">Same<br>Day</div><div class="t" style="left:112.3px;top:232.29999999999998px">Second<br>Class</div><div class="t" style="left:112.3px;top:285.69999999999993px">Standar<br>d Class</div><div class="t" style="left:112.3px;top:339.09999999999997px">First<br>Class</div><div class="t" style="left:112.3px;top:392.5px">Same<br>Day</div><div class="t" style="left:112.3px;top:445.9px">Second<br>Class</div><div class="t" style="left:112.3px;top:499.29999999999995px">Standar<br>d Class</div>

<svg class="a" style="left:0;top:0" width="1080" height="540" viewBox="0 0 1080 540">
<defs><mask id="wmk" maskUnits="userSpaceOnUse" x="700" y="470" width="80" height="60"><rect x="700" y="470" width="80" height="60" fill="#fff"/>
<path d="M749.3 490.8 C756.4 490.8 762.1 495.3 762.1 500.9 C762.1 503.9 760.5 506.6 757.9 508.4 L758.6 512.3 L755.2 509.9 C753.3 510.6 751.4 511 749.3 511 C742.2 511 736.5 506.5 736.5 500.9 C736.5 495.3 742.2 490.8 749.3 490.8 Z" fill="#000" stroke="#000" stroke-width="2.4"/></mask></defs>
<g opacity="0.35" fill="#1e1e1e">
<path mask="url(#wmk)" d="M736 479.7 C743.9 479.7 750.25 484.6 750.25 490.7 C750.25 496.8 743.9 501.7 736 501.7 C734 501.7 732.1 501.4 730.4 500.9 L726.8 505.3 L727.6 499.9 C724 497.9 721.75 494.5 721.75 490.7 C721.75 484.6 728.1 479.7 736 479.7 Z"/>
<path d="M749.3 490.8 C756.4 490.8 762.1 495.3 762.1 500.9 C762.1 503.9 760.5 506.6 757.9 508.4 L758.6 512.3 L755.2 509.9 C753.3 510.6 751.4 511 749.3 511 C742.2 511 736.5 506.5 736.5 500.9 C736.5 495.3 742.2 490.8 749.3 490.8 Z"/>
</g>
<g fill="#fff">
<circle cx="731.3" cy="488.1" r="1.6"/><circle cx="741.1" cy="488.1" r="1.6"/>
<circle cx="745.8" cy="497.9" r="1.4"/><circle cx="754.1" cy="497.9" r="1.4"/>
</g>
</svg>
<div class="wm" style="left:769.3px;top:482px;letter-spacing:1.4px">公众号</div>
<div class="wm" id="dot" style="left:864.1px;top:480.2px;font-size:25px;font-family:'Noto Sans CJK SC',sans-serif">·</div>
<div class="wm" style="left:894.2px;top:482.8px;letter-spacing:0.6px">二进制驿站</div>

<svg class="a" style="left:0;top:0" width="1080" height="540" viewBox="0 0 1080 540"><g fill="#DFE3E8">
<rect x="3" y="0" width="1" height="540"/><rect x="3" y="0" width="1074.35" height="1.8"/><rect x="1076" y="0" width="1.5" height="540"/></g></svg>
</body></html>
